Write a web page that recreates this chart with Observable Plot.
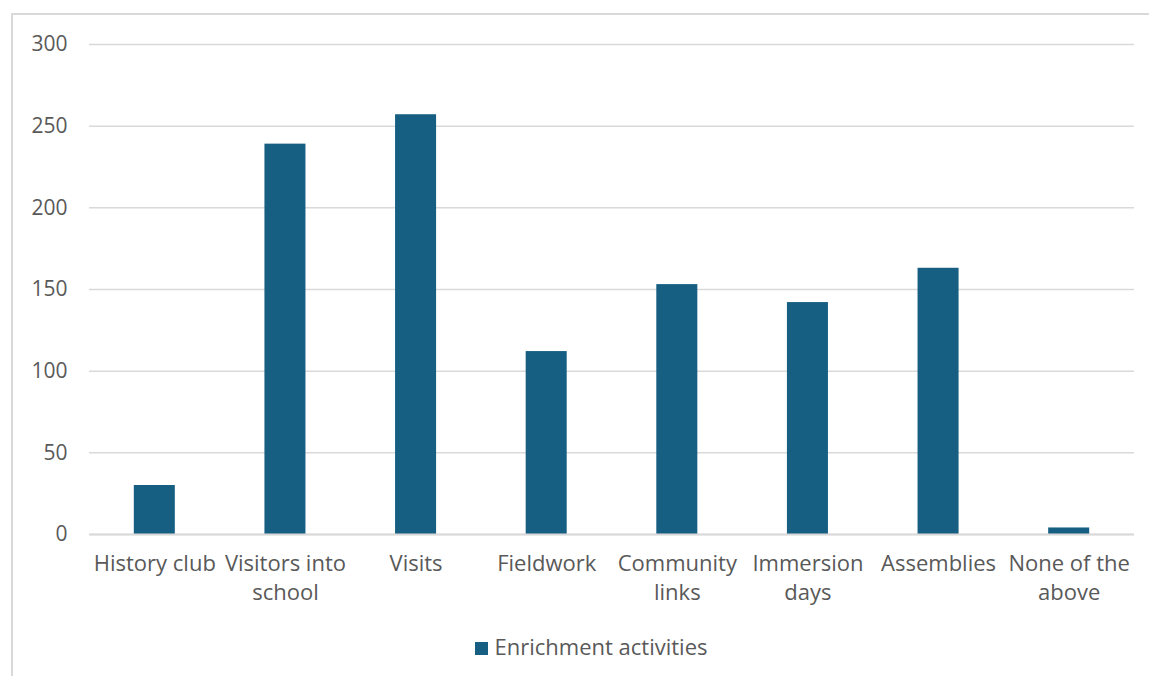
<!DOCTYPE html>
<html>
<head>
<meta charset="utf-8">
<script src="https://cdn.jsdelivr.net/npm/d3@7"></script>
<script src="https://cdn.jsdelivr.net/npm/@observablehq/plot@0.6"></script>
<style>
  html, body { margin: 0; padding: 0; background: #fff; }
  body { width: 1149px; height: 676px; position: relative; overflow: hidden; font-family: "Open Sans", Lato, sans-serif; }
  #frame { position: absolute; left: 11px; top: 13px; width: 1160px; height: 700px; border: 2px solid #d9d9d9; box-sizing: border-box; }
  #chart { position: absolute; left: 0; top: 0; }
  #legend { position: absolute; top: 631px; left: 0; width: 1182px; text-align: center; font-size: 22px; color: #595959; }
  #legend .sw { display: inline-block; width: 13px; height: 13px; background: #165f82; margin-right: 7px; vertical-align: 0px; }
</style>
</head>
<body>
<div id="frame"></div>
<div id="chart"></div>
<div id="legend"><span class="sw"></span>Enrichment activities</div>
<script>
const categories = ["History club", "Visitors into school", "Visits", "Fieldwork", "Community links", "Immersion days", "Assemblies", "None of the above"];
const tickLabels = ["History club", "Visitors into\nschool", "Visits", "Fieldwork", "Community\nlinks", "Immersion\ndays", "Assemblies", "None of the\nabove"];
const values = [30, 239, 257, 112, 153, 142, 163, 4];
const yTicks = [0, 50, 100, 150, 200, 250, 300];

const data = categories.map((c, i) => ({category: c, value: values[i]}));
const labelOf = new Map(categories.map((c, i) => [c, tickLabels[i]]));

const chart = Plot.plot({
  width: 1149,
  height: 620,
  marginLeft: 89,
  marginRight: 15,
  marginTop: 44,
  marginBottom: 86,
  style: {fontFamily: "'Open Sans', Lato, sans-serif", background: "transparent"},
  x: {domain: categories, paddingInner: 0.686, paddingOuter: 0.343, align: 0.5, round: false},
  y: {domain: [0, 300]},
  marks: [
    Plot.gridY(yTicks, {stroke: "#d9d9d9", strokeOpacity: 1, strokeWidth: 1.5}),
    Plot.barY(data, {x: "category", y: "value", fill: "#165f82"}),
    Plot.ruleY([0], {stroke: "#d9d9d9", strokeWidth: 2}),
    Plot.axisY({ticks: yTicks, tickSize: 0, tickPadding: 22, fontSize: 21, fill: "#595959", label: null}),
    Plot.axisX({tickSize: 0, tickPadding: 16, fontSize: 22, fill: "#595959", lineHeight: 1.32, label: null, tickFormat: d => labelOf.get(d)})
  ]
});
document.getElementById("chart").appendChild(chart);
</script>
</body>
</html>
